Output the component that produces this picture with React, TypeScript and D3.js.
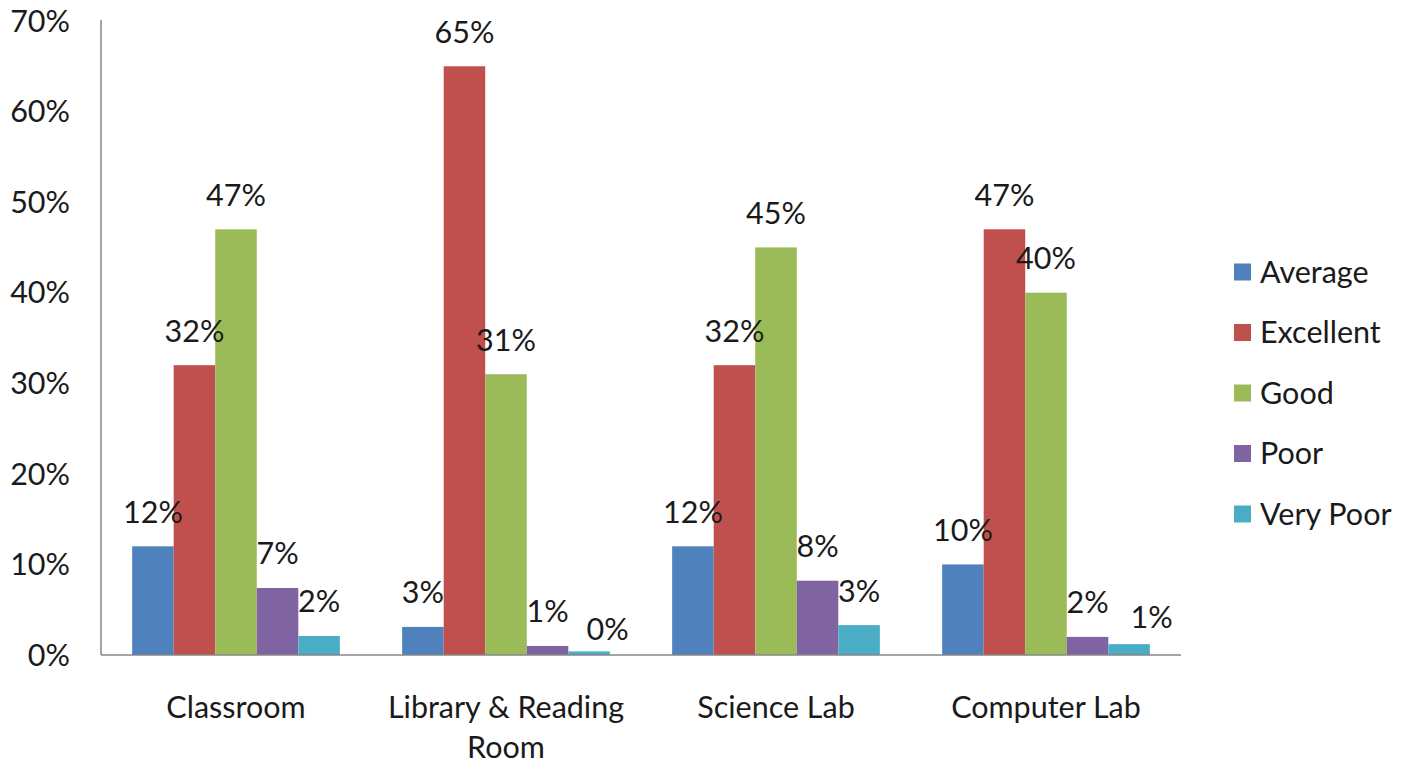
import React from "react";
import * as d3 from "d3";

const categories = ["Classroom", "Library & Reading Room", "Science Lab", "Computer Lab"];
const categoryLines = [["Classroom"], ["Library & Reading", "Room"], ["Science Lab"], ["Computer Lab"]];
const seriesNames = ["Average", "Excellent", "Good", "Poor", "Very Poor"];
const seriesColors = ["#4F81BD", "#C0504D", "#9BBB59", "#8064A2", "#4BACC6"];
const average = [12, 3.1, 12, 10];
const excellent = [32, 65, 32, 47];
const good = [47, 31, 45, 40];
const poor = [7.4, 1, 8.2, 2];
const veryPoor = [2.1, 0.4, 3.3, 1.2];
const yTicks = [0, 10, 20, 30, 40, 50, 60, 70];

const seriesValues = [average, excellent, good, poor, veryPoor];
// data labels moved aside to avoid overlapping (category index, series index, dx, dy)
const labelNudges: [number, number, number, number][] = [
  [1, 4, 18.5, 12],
  [3, 4, 22.5, 7],
];

const W = 1411;
const H = 763;
const FONT = "Lato, 'Open Sans', sans-serif";
const FS = 30.5;
const TXT = "#1a1a1a";

export default function App() {
  const x0 = d3.scaleBand<string>().domain(categories).range([101, 1181]).paddingInner(0).paddingOuter(0);
  const x1 = d3.scaleBand<string>().domain(seriesNames).range([0, x0.bandwidth()]).paddingInner(0).paddingOuter(0.75);
  const y = d3.scaleLinear().domain([0, 70]).range([655, 21]);

  const nudge = (ci: number, si: number) => {
    const n = labelNudges.find((d) => d[0] === ci && d[1] === si);
    return n ? [n[2], n[3]] : [0, 0];
  };

  return (
    <svg width={W} height={H} style={{ position: "absolute", left: 0, top: 0, background: "#fff" }} fontFamily={FONT}>
      {yTicks.map((t) => (
        <text key={t} x={70} y={y(t)} dy="0.35em" textAnchor="end" fontSize={FS} fill={TXT}>
          {t}%
        </text>
      ))}
      {categories.map((c, ci) => (
        <g key={c}>
          {seriesNames.map((s, si) => {
            const v = seriesValues[si][ci];
            const bx = (x0(c) as number) + (x1(s) as number);
            return (
              <rect key={s} x={bx} y={y(v)} width={x1.bandwidth()} height={y(0) - y(v)} fill={seriesColors[si]} />
            );
          })}
        </g>
      ))}
      {categories.map((c, ci) => (
        <g key={c + "labels"}>
          {seriesNames.map((s, si) => {
            const v = seriesValues[si][ci];
            const [dx, dy] = nudge(ci, si);
            const bx = (x0(c) as number) + (x1(s) as number) + x1.bandwidth() / 2;
            return (
              <text key={s + "l"} x={bx + dx} y={y(v) - 23.5 + dy} textAnchor="middle" fontSize={FS} fill={TXT}>
                {Math.round(v)}%
              </text>
            );
          })}
          {categoryLines[ci].map((line, li) => (
            <text key={li} x={(x0(c) as number) + x0.bandwidth() / 2} y={707 + li * 40} dy="0.35em" textAnchor="middle" fontSize={FS} fill={TXT}>
              {line}
            </text>
          ))}
        </g>
      ))}
      <line x1={101} x2={101} y1={20} y2={655} stroke="#868686" strokeWidth={1.5} />
      <line x1={101} x2={1181} y1={655} y2={655} stroke="#868686" strokeWidth={1.5} />
      {seriesNames.map((s, si) => (
        <g key={s} transform={`translate(1234, ${272 + si * 60.5})`}>
          <rect x={0} y={-8.5} width={17} height={17} fill={seriesColors[si]} />
          <text x={26} y={0} dy="0.35em" fontSize={FS} fill={TXT}>
            {s}
          </text>
        </g>
      ))}
    </svg>
  );
}
